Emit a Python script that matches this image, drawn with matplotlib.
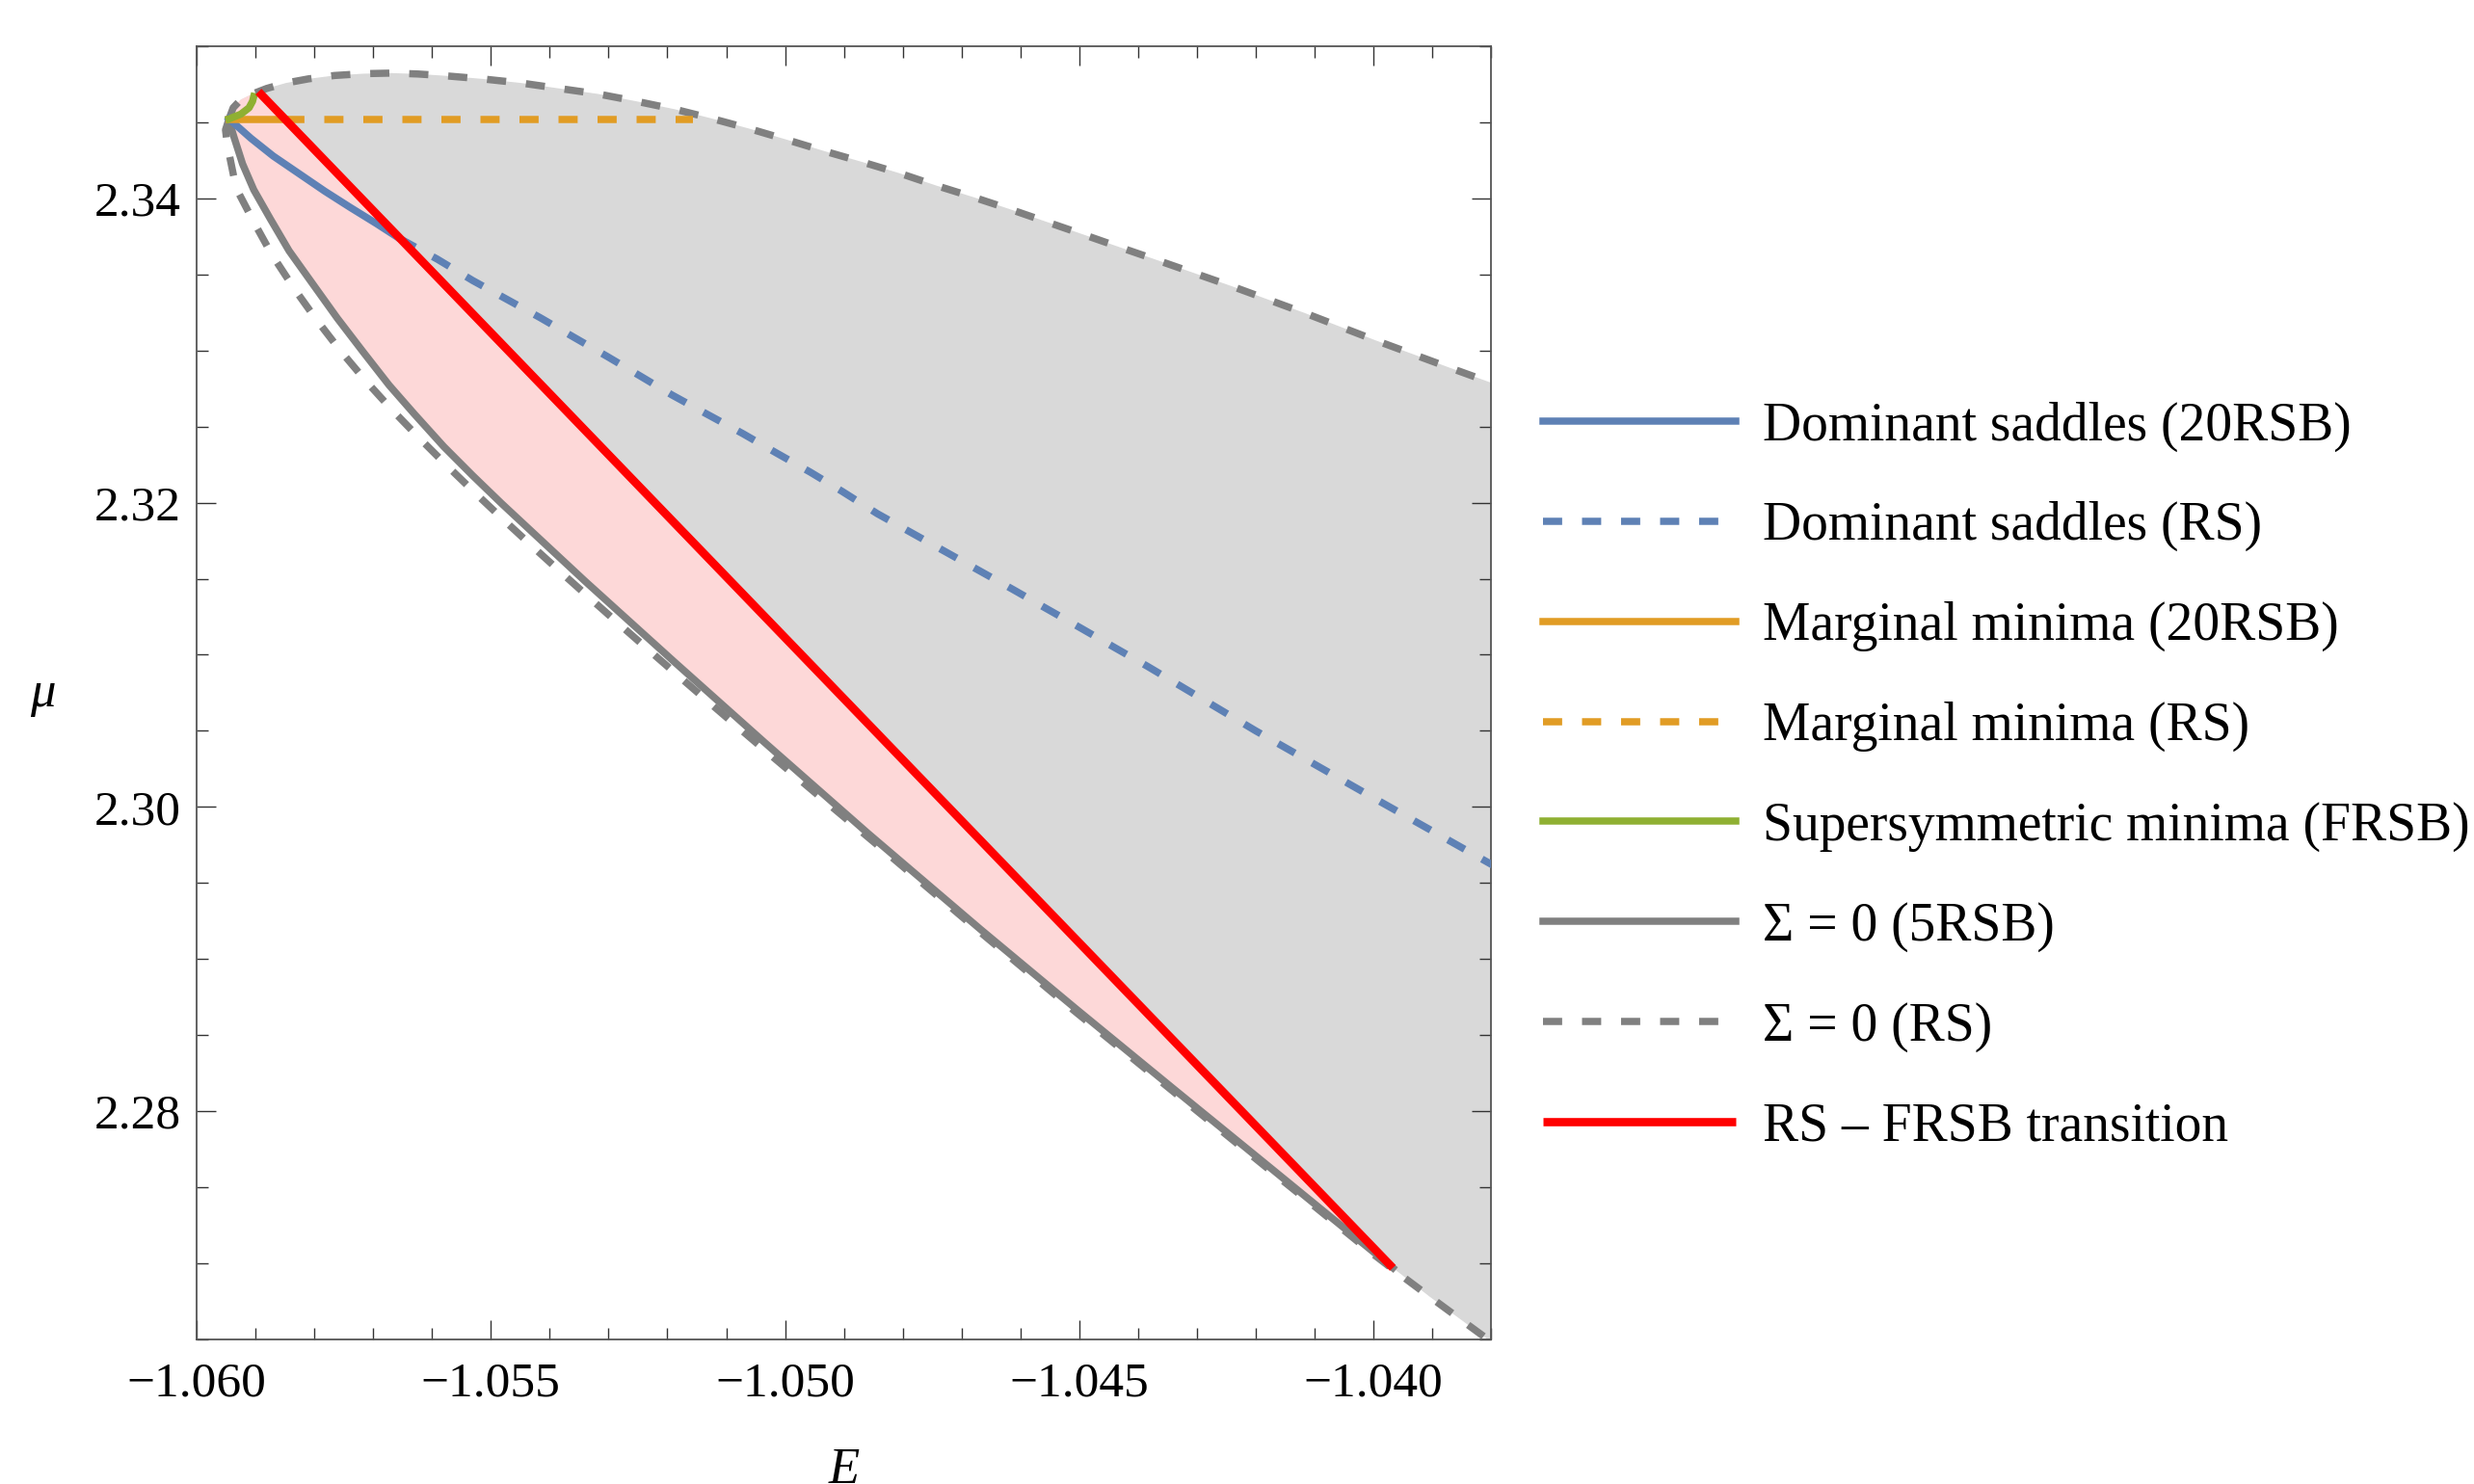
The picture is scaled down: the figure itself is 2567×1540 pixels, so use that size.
import numpy as np
import matplotlib
matplotlib.use('Agg')
import matplotlib.pyplot as plt
from matplotlib.ticker import MultipleLocator

plt.rcParams['font.family'] = ['Liberation Serif', 'DejaVu Serif']

# Sigma = 0, RS solution, upper branch (cusp -> right edge)
rs_upper_E = [-1.05945, -1.05938, -1.05925, -1.05905, -1.05881, -1.05848, -1.05810, -1.05766,
              -1.05717, -1.05668, -1.05624, -1.05580, -1.05515, -1.05449, -1.05384, -1.05318,
              -1.05252, -1.05187, -1.05127, -1.05061, -1.04996, -1.04933, -1.04870, -1.04804,
              -1.04744, -1.04681, -1.04619, -1.04556, -1.04493, -1.04430, -1.04367, -1.04242,
              -1.04116, -1.03996, -1.03870, -1.03780]
rs_upper_mu = [2.34522, 2.34595, 2.34648, 2.34686, 2.34722, 2.34758, 2.34785, 2.34807,
               2.34819, 2.34823, 2.34817, 2.34806, 2.34785, 2.34758, 2.34722, 2.34686,
               2.34637, 2.34585, 2.34527, 2.34458, 2.34384, 2.34310, 2.34240, 2.34163,
               2.34085, 2.34009, 2.33930, 2.33846, 2.33762, 2.33677, 2.33593, 2.33424,
               2.33245, 2.33066, 2.32886, 2.32760]

# Sigma = 0, RS solution, lower branch
rs_lower_E = [-1.05945, -1.05951, -1.05948, -1.05933, -1.05903, -1.05873, -1.05834, -1.05796,
              -1.05755, -1.05711, -1.05668, -1.05621, -1.05572, -1.05526, -1.05480, -1.05433,
              -1.05384, -1.05334, -1.05285, -1.05239, -1.05190, -1.05138, -1.05089, -1.05040,
              -1.04990, -1.04938, -1.04889, -1.04840, -1.04680, -1.04510, -1.04345, -1.04180,
              -1.04100, -1.04000, -1.03967, -1.03905, -1.03848, -1.03804, -1.03780]
rs_lower_mu = [2.34522, 2.34450, 2.34352, 2.34067, 2.33845, 2.33635, 2.33405, 2.33200,
               2.32995, 2.32793, 2.32610, 2.32422, 2.32233, 2.32061, 2.31893, 2.31725,
               2.31553, 2.31380, 2.31212, 2.31056, 2.30891, 2.30717, 2.30554, 2.30392,
               2.30228, 2.30058, 2.29899, 2.29740, 2.29215, 2.28665, 2.28145, 2.27625,
               2.27375, 2.27060, 2.26962, 2.26783, 2.26621, 2.26496, 2.26428]

# Sigma = 0, 5RSB solution (cusp -> end of the transition line)
rsb5_E = [-1.05945, -1.05942, -1.05936, -1.05922, -1.05903, -1.05875, -1.05843, -1.05804,
          -1.05761, -1.05717, -1.05673, -1.05630, -1.05580, -1.05531, -1.05482, -1.05340,
          -1.05187, -1.05034, -1.04859, -1.04668, -1.04504, -1.04340, -1.04176, -1.03967]
rsb5_mu = [2.34522, 2.34470, 2.34395, 2.34226, 2.34056, 2.33866, 2.33655, 2.33444,
           2.33212, 2.32990, 2.32772, 2.32582, 2.32368, 2.32178, 2.31995, 2.31484,
           2.30949, 2.30421, 2.29826, 2.29196, 2.28668, 2.28148, 2.27631, 2.26971]

# dominant saddles
dom_rsb_E = [-1.05945, -1.05908, -1.05870, -1.05826, -1.05782, -1.05739, -1.05695, -1.05657]
dom_rsb_mu = [2.34522, 2.34395, 2.34278, 2.34162, 2.34046, 2.33940, 2.33835, 2.33740]
dom_rs_E = [-1.05657, -1.05591, -1.05531, -1.05477, -1.05416, -1.05359, -1.05302, -1.05247,
            -1.05192, -1.05132, -1.05072, -1.05015, -1.04957, -1.04903, -1.04843, -1.04613,
            -1.04556, -1.04498, -1.04441, -1.04384, -1.04200, -1.04000, -1.03780]
dom_rs_mu = [2.33740, 2.33600, 2.33460, 2.33345, 2.33215, 2.33087, 2.32960, 2.32834,
             2.32707, 2.32580, 2.32454, 2.32327, 2.32200, 2.32074, 2.31927, 2.31430,
             2.31304, 2.31177, 2.31050, 2.30924, 2.30500, 2.30060, 2.29580]

# marginal minima
marg_rsb_E = [-1.05945, -1.05850]
marg_rsb_mu = [2.34520, 2.34520]
marg_rs_E = [-1.05850, -1.05157]
marg_rs_mu = [2.34520, 2.34520]

# supersymmetric minima
susy_E = [-1.05945, -1.05925, -1.05911, -1.05905, -1.05903]
susy_mu = [2.34522, 2.34553, 2.34595, 2.34638, 2.34669]

# RS - FRSB transition
trans_E = [-1.05895, -1.03967]
trans_mu = [2.34701, 2.26970]

legend_labels = ['Dominant saddles (20RSB)', 'Dominant saddles (RS)',
                 'Marginal minima (20RSB)', 'Marginal minima (RS)',
                 'Supersymmetric minima (FRSB)', 'Σ = 0 (5RSB)', 'Σ = 0 (RS)',
                 'RS – FRSB transition']

xticks = [-1.060, -1.055, -1.050, -1.045, -1.040]
xticklabels = ['−1.060', '−1.055', '−1.050', '−1.045', '−1.040']
yticks = [2.28, 2.30, 2.32, 2.34]
yticklabels = ['2.28', '2.30', '2.32', '2.34']

c_blue = '#5e81b5'
c_orange = '#e19c24'
c_green = '#8fb032'
c_gray = '#808080'
c_red = '#ff0000'

fig = plt.figure(figsize=(25.67, 15.40), dpi=100)
ax = fig.add_axes([0.0795, 0.0974, 0.5232, 0.8715])

# shaded regions
rsb5_E_a = np.array(rsb5_E)
rsb5_mu_a = np.array(rsb5_mu)
lowE = np.array(rs_lower_E)
lowmu = np.array(rs_lower_mu)
tail = lowE > trans_E[1]
gray_E = np.concatenate([rs_upper_E, lowE[tail][::-1], rsb5_E_a[::-1]])
gray_mu = np.concatenate([rs_upper_mu, lowmu[tail][::-1], rsb5_mu_a[::-1]])
ax.fill(gray_E, gray_mu, color='#d9d9d9', lw=0, zorder=1)

up = np.array(rs_upper_E) < trans_E[0]
pink_E = np.concatenate([trans_E, rsb5_E_a[::-1], np.array(rs_upper_E)[up]])
pink_mu = np.concatenate([trans_mu, rsb5_mu_a[::-1], np.array(rs_upper_mu)[up]])
ax.fill(pink_E, pink_mu, color='#fdd8d8', lw=0, zorder=2)

lw = 5.4
dash = (2.65, 2.75)
h = {}
h[6], = ax.plot(rs_lower_E, rs_lower_mu, color=c_gray, lw=lw, dashes=dash, zorder=3)
ax.plot(rs_upper_E, rs_upper_mu, color=c_gray, lw=lw, dashes=dash, zorder=3)
h[5], = ax.plot(rsb5_E, rsb5_mu, color=c_gray, lw=lw, zorder=4)
h[0], = ax.plot(dom_rsb_E, dom_rsb_mu, color=c_blue, lw=lw, zorder=5)
h[1], = ax.plot(dom_rs_E, dom_rs_mu, color=c_blue, lw=lw, dashes=dash, zorder=5)
h[3], = ax.plot(marg_rs_E, marg_rs_mu, color=c_orange, lw=lw, dashes=dash, zorder=5)
h[2], = ax.plot(marg_rsb_E, marg_rsb_mu, color=c_orange, lw=lw, zorder=6)
h[4], = ax.plot(susy_E, susy_mu, color=c_green, lw=lw, zorder=7)
h[7], = ax.plot(trans_E, trans_mu, color=c_red, lw=6.2, zorder=8, solid_capstyle='butt')

ax.set_xlim(-1.060, -1.038)
ax.set_ylim(2.265, 2.350)

ax.set_xticks(xticks, labels=xticklabels)
ax.set_yticks(yticks, labels=yticklabels)
ax.xaxis.set_minor_locator(MultipleLocator(0.001))
ax.yaxis.set_minor_locator(MultipleLocator(0.005))
ax.tick_params(which='both', direction='in', top=True, right=True,
               color='#333333', width=1.0, labelsize=37)
ax.tick_params(which='major', length=14.5)
ax.tick_params(which='minor', length=8.5)
ax.tick_params(axis='x', pad=16.5)
ax.tick_params(axis='y', pad=12)
for s in ax.spines.values():
    s.set_color('#555555')
    s.set_linewidth(1.3)

fig.text(44 / 2567, 1 - 720 / 1540, 'μ', style='italic', fontsize=38, ha='center', va='center')
fig.text(876 / 2567, 1 - 1502 / 1540, 'E', style='italic', fontsize=38, ha='center', va='top')

fig.legend([h[i] for i in range(8)], legend_labels, loc='upper left',
           bbox_to_anchor=(0.6237, 0.7296), frameon=False, fontsize=40,
           borderpad=0, borderaxespad=0, handlelength=3.6, handletextpad=0.5,
           labelspacing=0.93)

fig.savefig('out.png', dpi=100)
